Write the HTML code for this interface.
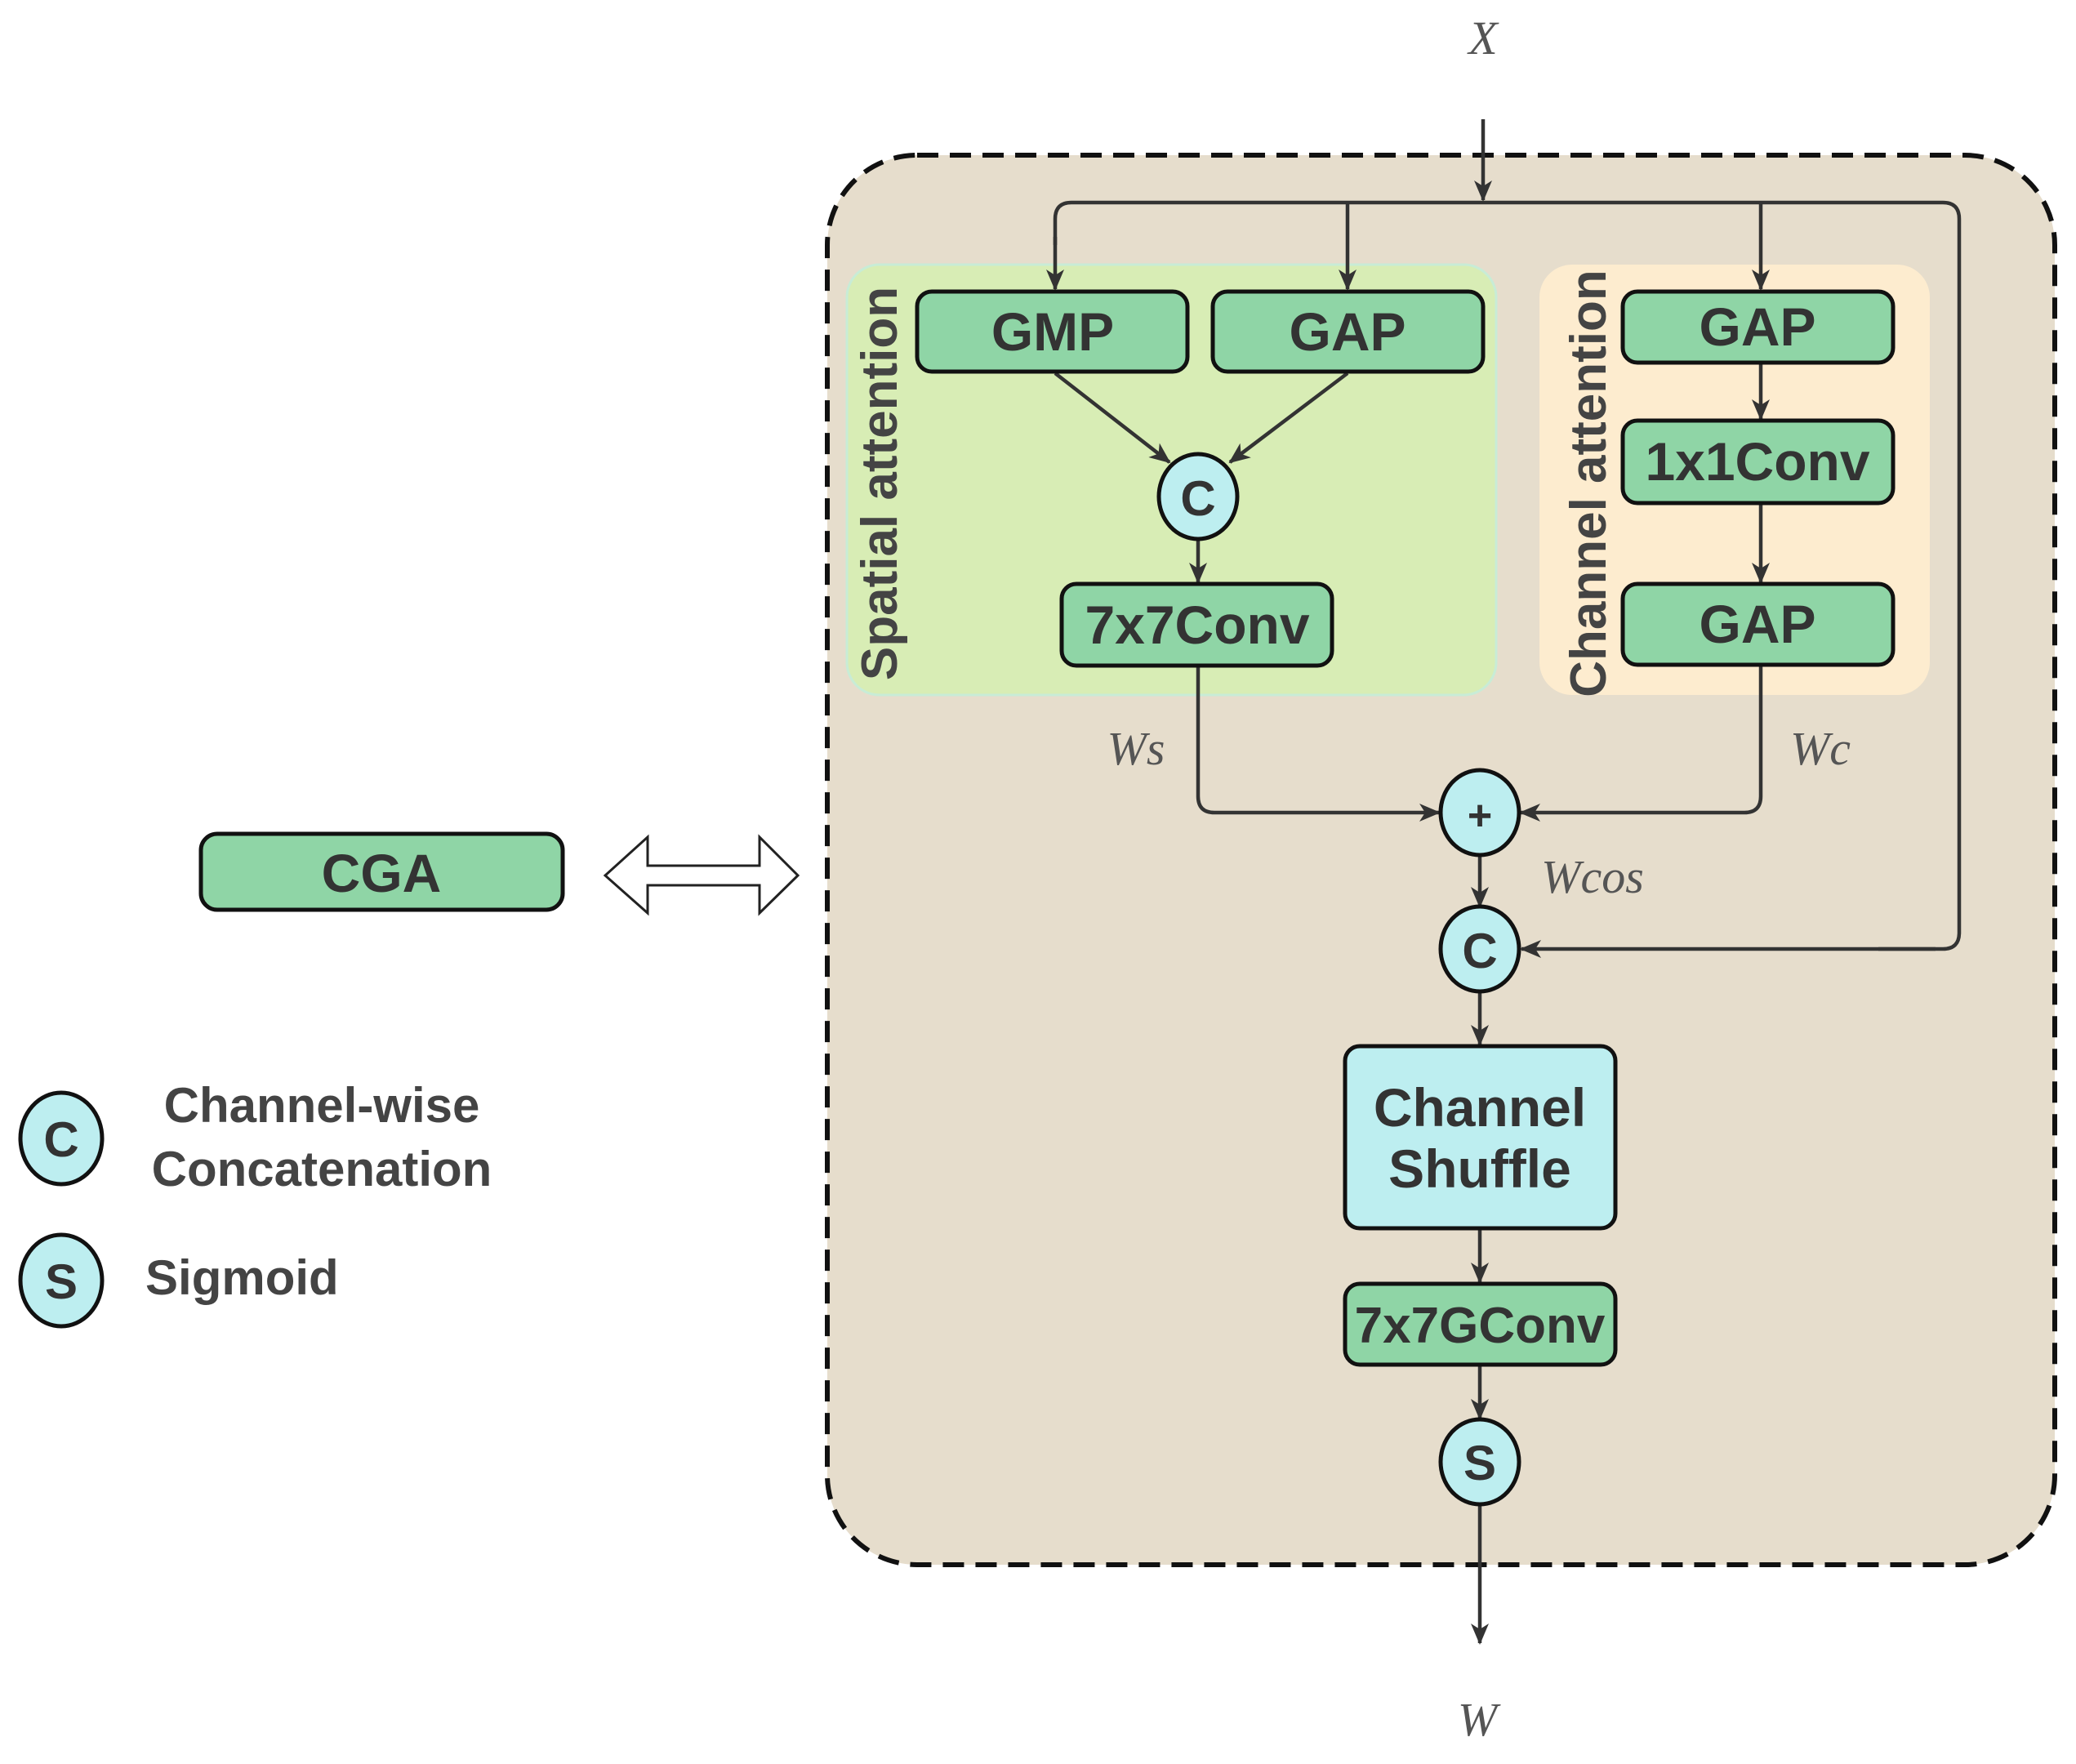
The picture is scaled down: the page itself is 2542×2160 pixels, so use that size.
<!DOCTYPE html>
<html><head><meta charset="utf-8"><style>
html,body{margin:0;padding:0;background:#fff;}
svg{display:block;}
.b{font-family:"Liberation Sans",sans-serif;font-weight:bold;fill:#333;}
.i{font-family:"Liberation Serif",serif;font-style:italic;fill:#555;}
</style></head><body>
<svg width="2542" height="2160" viewBox="0 0 2542 2160" xmlns="http://www.w3.org/2000/svg">
<defs>
<marker id="a" viewBox="0 0 26 22" refX="24" refY="11" markerWidth="26" markerHeight="22" orient="auto" markerUnits="userSpaceOnUse">
<path d="M0,0 L26,11 L0,22 L7,11 z" fill="#333"/>
</marker>
</defs>
<rect x="1013" y="190" width="1503" height="1726" rx="110" fill="#e6ddcc" stroke="#111" stroke-width="6" stroke-dasharray="26,14"/>
<rect x="1037" y="324" width="795" height="527" rx="40" fill="#d8edb5" stroke="#c8ecd6" stroke-width="3"/>
<rect x="1885" y="324" width="478" height="527" rx="40" fill="#fdeccf"/>
<text class="b" font-size="62" transform="translate(1098,592) rotate(-90)" text-anchor="middle" style="fill:#444">Spatial attention</text>
<text class="b" font-size="62" transform="translate(1966,592) rotate(-90)" text-anchor="middle" style="fill:#444">Channel attention</text>
<g stroke="#333" stroke-width="4.5" fill="none">
<line x1="1816" y1="146" x2="1816" y2="245" marker-end="url(#a)"/>
<path d="M1292,300 V268 Q1292,248 1312,248 H2379 Q2399,248 2399,268 V1142 Q2399,1162 2379,1162 H2300"/>
<line x1="1292" y1="290" x2="1292" y2="354" marker-end="url(#a)"/>
<line x1="1650" y1="248" x2="1650" y2="354" marker-end="url(#a)"/>
<line x1="2156" y1="248" x2="2156" y2="354" marker-end="url(#a)"/>
<path d="M2370,1162 H1863" marker-end="url(#a)"/>
<line x1="1292" y1="457" x2="1432" y2="566" marker-end="url(#a)"/>
<line x1="1650" y1="457" x2="1506" y2="566" marker-end="url(#a)"/>
<line x1="1467" y1="660" x2="1467" y2="713" marker-end="url(#a)"/>
<line x1="2156" y1="444" x2="2156" y2="513" marker-end="url(#a)"/>
<line x1="2156" y1="616" x2="2156" y2="713" marker-end="url(#a)"/>
<path d="M1467,815 V975 Q1467,995 1487,995 H1762" marker-end="url(#a)"/>
<path d="M2156,814 V975 Q2156,995 2136,995 H1862" marker-end="url(#a)"/>
<line x1="1812" y1="1047" x2="1812" y2="1110" marker-end="url(#a)"/>
<line x1="1812" y1="1214" x2="1812" y2="1279" marker-end="url(#a)"/>
<line x1="1812" y1="1504" x2="1812" y2="1570" marker-end="url(#a)"/>
<line x1="1812" y1="1671" x2="1812" y2="1737" marker-end="url(#a)"/>
<line x1="1812" y1="1842" x2="1812" y2="2012" marker-end="url(#a)"/>
</g>
<g stroke="#111" stroke-width="5" fill="#8fd5a6">
<rect x="1123" y="357" width="331" height="98" rx="18"/>
<rect x="1485" y="357" width="331" height="98" rx="18"/>
<rect x="1300" y="715" width="331" height="100" rx="18"/>
<rect x="1987" y="357" width="331" height="87" rx="18"/>
<rect x="1987" y="515" width="331" height="101" rx="18"/>
<rect x="1987" y="715" width="331" height="99" rx="18"/>
<rect x="1647" y="1572" width="331" height="99" rx="18"/>
<rect x="246" y="1021" width="443" height="93" rx="20"/>
<rect x="1647" y="1281" width="331" height="223" rx="18" fill="#bdeef0"/>
</g>
<g stroke="#111" stroke-width="5" fill="#bdeef0">
<ellipse cx="1467" cy="608" rx="48" ry="52"/>
<ellipse cx="1812" cy="995" rx="48" ry="52"/>
<ellipse cx="1812" cy="1162" rx="48" ry="52"/>
<ellipse cx="1812" cy="1790" rx="48" ry="52"/>
<ellipse cx="75" cy="1394" rx="50" ry="56"/>
<ellipse cx="75" cy="1568" rx="50" ry="56"/>
</g>
<path d="M741,1072 L793,1025 V1060 H930 V1025 L977,1072 L930,1118 V1084 H793 V1118 Z" fill="#fff" stroke="#222" stroke-width="3"/>
<g class="b" font-size="66" text-anchor="middle">
<text x="1289" y="429">GMP</text>
<text x="1650" y="429">GAP</text>
<text x="1466" y="788">7x7Conv</text>
<text x="2152" y="423">GAP</text>
<text x="2152" y="588">1x1Conv</text>
<text x="2152" y="787">GAP</text>
<text x="1812" y="1379">Channel</text>
<text x="1812" y="1454">Shuffle</text>
<text x="1812" y="1644" font-size="62">7x7GConv</text>
<text x="467" y="1092">CGA</text>
<text x="1467" y="631" font-size="60">C</text>
<text x="1812" y="1016" font-size="52">+</text>
<text x="1812" y="1185" font-size="60">C</text>
<text x="1812" y="1812" font-size="60">S</text>
<text x="75" y="1416" font-size="60">C</text>
<text x="75" y="1590" font-size="60">S</text>
</g>
<g class="b" font-size="60" style="fill:#444">
<text x="394" y="1374" text-anchor="middle">Channel-wise</text>
<text x="394" y="1452" text-anchor="middle">Concatenation</text>
<text x="178" y="1585">Sigmoid</text>
</g>
<g class="i" font-size="58" text-anchor="middle">
<text x="1816" y="66">X</text>
<text x="1391" y="936">Ws</text>
<text x="2229" y="936">Wc</text>
<text x="1950" y="1093">Wcos</text>
<text x="1809" y="2125">W</text>
</g>
</svg>
</body></html>
